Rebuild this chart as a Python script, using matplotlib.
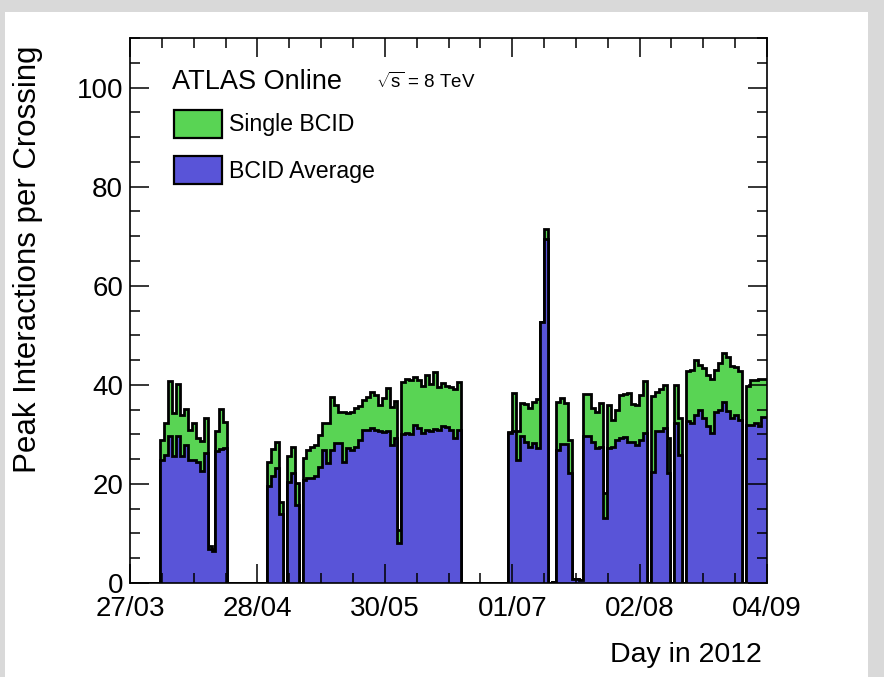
import numpy as np
import matplotlib
matplotlib.use("Agg")
import matplotlib.pyplot as plt
from matplotlib.patches import Patch, Rectangle

plt.rcParams["font.family"] = ["Liberation Sans", "DejaVu Sans"]
plt.rcParams["mathtext.fontset"] = "custom"
plt.rcParams["mathtext.rm"] = "Liberation Sans"
plt.rcParams["mathtext.it"] = "Liberation Sans"

# ---- data: daily peak pile-up, days counted from 27/03/2012 ----
n_days = 161
bin_offset = 0.6  # bins start at day + 0.6

run_starts = [7, 34, 95]

single_spring = [28.9, 32.3, 40.7, 34.4, 40.2, 33.9, 35.1, 30.8, 32.3, 29.3,
                 28.7, 33.3, 7.5, 6.7, 30.6, 35.1, 32.5]
average_spring = [24.8, 25.8, 29.6, 25.7, 29.6, 25.6, 27.9, 24.8, 24.9, 24.4,
                  22.7, 26.3, 6.9, 6.5, 26.7, 27.1, 27.2]

single_may = [24.5, 27.0, 28.5, 16.4, 0.0, 25.7, 27.4, 20.2, 0.0,
              25.2, 26.9, 27.4, 27.9, 29.9, 32.3, 32.3, 37.6, 35.9, 34.6,
              34.5, 34.4, 34.6, 35.3, 35.8,
              36.9, 37.6, 38.5, 38.0, 36.0, 37.3, 39.3, 35.6, 36.8, 10.7,
              40.5, 41.2, 41.0, 41.5, 41.0, 39.8, 41.9, 40.2, 42.6, 39.5,
              40.3, 39.8, 39.6, 39.1, 40.5]
average_may = [19.6, 21.5, 23.2, 13.9, 0.0, 20.4, 22.2, 15.8, 0.0,
               20.8, 21.1, 21.1, 21.6, 23.5, 26.9, 24.3, 26.9, 28.3, 28.3,
               24.5, 27.2, 26.9, 27.5, 28.8,
               30.9, 30.9, 31.2, 30.8, 30.6, 30.4, 30.6, 27.9, 29.2, 8.0,
               30.1, 30.3, 30.1, 31.9, 31.2, 30.2, 30.8, 30.6, 31.0, 30.9,
               31.7, 31.4, 30.9, 29.2, 30.9]

single_summer = [30.4, 38.3, 30.7, 36.4, 36.2, 35.3, 36.6, 37.1, 52.6, 71.4,
                 0.0, 0.3, 36.6, 37.3, 36.4, 28.9, 0.8, 0.8, 0.6, 38.2,
                 38.2, 35.3, 34.6, 36.4, 18.1, 36.0, 33.0, 35.0, 38.0, 38.2,
                 38.3, 36.2, 36.0, 38.0, 40.7, 0.0, 37.7, 38.6, 39.1, 40.0,
                 29.2, 0.0, 40.0, 33.3, 0.0, 42.7, 43.0, 45.0, 44.0, 43.4,
                 42.0, 41.1, 43.0, 44.4, 46.5, 45.6, 43.8, 43.6, 42.7, 0.0,
                 39.8, 41.0, 41.0, 41.1, 41.1, 41.1]
average_summer = [30.2, 30.6, 24.8, 29.6, 28.4, 27.4, 28.2, 27.3, 52.6, 69.4,
                  0.0, 0.3, 26.8, 28.0, 28.0, 22.3, 0.8, 0.8, 0.6, 29.7,
                  29.7, 28.5, 27.2, 27.5, 13.1, 27.2, 27.5, 28.9, 29.2, 29.4,
                  28.5, 28.5, 27.9, 28.9, 30.2, 0.0, 22.5, 30.6, 30.6, 31.2,
                  22.2, 0.0, 32.2, 25.8, 0.0, 32.6, 32.3, 34.0, 35.0, 33.3,
                  31.7, 30.2, 34.6, 34.9, 36.6, 34.8, 33.3, 34.0, 33.0, 0.0,
                  31.9, 31.9, 32.2, 31.6, 33.6, 33.6]

date_labels = ["27/03", "28/04", "30/05", "01/07", "02/08", "04/09"]

single_runs = [single_spring, single_may, single_summer]
average_runs = [average_spring, average_may, average_summer]

single = np.zeros(n_days)
average = np.zeros(n_days)
for start, s, a in zip(run_starts, single_runs, average_runs):
    single[start:start + len(s)] = s
    average[start:start + len(a)] = a
edges = np.arange(n_days + 1) + bin_offset

green = "#59d454"
blue = "#5954d8"

# ---- figure ----
W, H = 884, 677
fig = plt.figure(figsize=(W / 100, H / 100), dpi=100)
fig.patch.set_facecolor("#d9d9d9")
fig.add_artist(Rectangle((5 / W, 0), 863 / W, 665 / H, transform=fig.transFigure,
                         facecolor="white", edgecolor="none", zorder=-5))

ax = fig.add_axes([130 / W, 1 - 583 / H, 637 / W, 545 / H])

ax.stairs(single, edges, fill=True, facecolor=green, edgecolor="black",
          linewidth=2.0, label="Single BCID")
ax.stairs(average, edges, fill=True, facecolor=blue, edgecolor="black",
          linewidth=2.0, label="BCID Average")

ax.set_xlim(0, 161)
ax.set_ylim(0, 110)

ax.set_xticks(np.linspace(0, 161, 6))
ax.set_xticks(np.linspace(0, 161, 21), minor=True)
ax.set_xticklabels(date_labels)
ax.set_yticks(np.arange(0, 101, 20))
ax.set_yticks(np.arange(0, 111, 5), minor=True)

ax.tick_params(which="both", direction="in", top=True, right=True,
               width=1.1, color="black", labelsize=20)
ax.tick_params(which="major", length=13.5)
ax.tick_params(which="minor", length=7)
ax.tick_params(axis="x", pad=9.5)
ax.tick_params(axis="y", pad=5)
for sp in ax.spines.values():
    sp.set_linewidth(1.2)

ax.set_ylabel("Peak Interactions per Crossing", fontsize=22.5, loc="top")
ax.yaxis.set_label_coords(-0.137, 0.987)
ax.set_xlabel("Day in 2012", fontsize=20.5, loc="right")
ax.xaxis.set_label_coords(0.992, -0.108)

fig.text(172 / W, 1 - 82 / H, "ATLAS Online", fontsize=19.5, va="center", ha="left")
fig.text(376 / W, 1 - 82 / H, r"$\sqrt{\mathrm{s}}$ = 8 TeV", fontsize=13.5,
         va="center", ha="left")

handles = [Patch(facecolor=green, edgecolor="black", linewidth=1.6),
           Patch(facecolor=blue, edgecolor="black", linewidth=1.6)]
ax.legend(handles, ["Single BCID", "BCID Average"], loc="upper left",
          bbox_to_anchor=((174 - 130) / 637, (583 - 110) / 545),
          frameon=False, fontsize=16.7, handlelength=2.05, handleheight=1.45,
          handletextpad=0.34, labelspacing=0.8, borderpad=0, borderaxespad=0)

fig.savefig("out.png", dpi=100, facecolor=fig.get_facecolor())
